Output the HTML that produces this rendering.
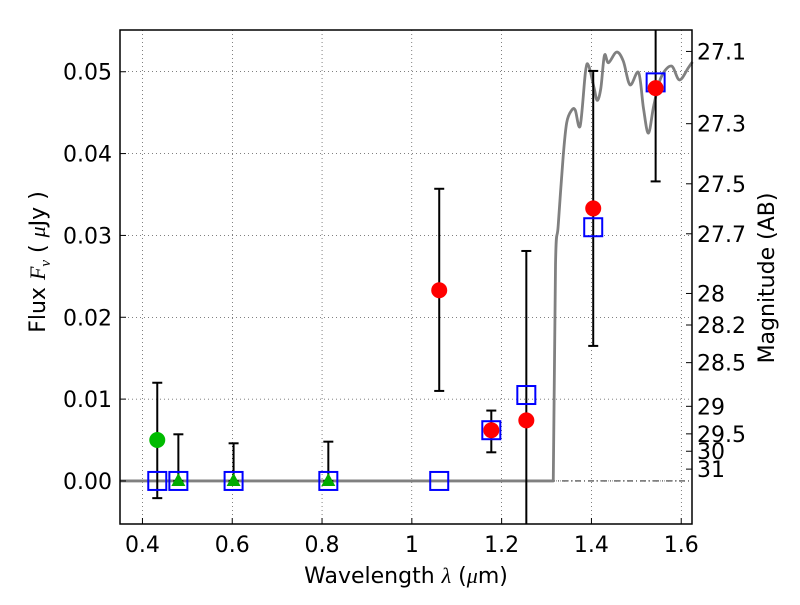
<!DOCTYPE html>
<html><head><meta charset="utf-8"><style>
html,body{margin:0;padding:0;background:#fff;}
svg text{font-family:"DejaVu Sans","Liberation Sans",sans-serif;}
</style></head><body>
<svg id="chart" width="800" height="600" xmlns="http://www.w3.org/2000/svg">
<rect width="800" height="600" fill="#fff"/>
<g id="grid"></g>
<g id="plot"></g>
<rect x="120" y="30" width="572" height="494" fill="none" stroke="#000" stroke-width="1.5"/>
<g id="axes"></g>
<text x="406" y="583" font-size="22" text-anchor="middle">Wavelength  <tspan font-style="italic" font-family="Liberation Serif,serif">λ</tspan> (<tspan font-style="italic" font-family="Liberation Serif,serif">μ</tspan>m)</text>
<text transform="translate(45,262) rotate(-90)" font-size="22" text-anchor="middle">Flux  <tspan font-style="italic" font-family="Liberation Serif,serif">F</tspan><tspan font-style="italic" font-family="Liberation Serif,serif" font-size="15" dy="5">ν</tspan><tspan dy="-5">  ( </tspan><tspan font-style="italic" font-family="Liberation Serif,serif">μ</tspan>Jy )</text>
<text transform="translate(774,278) rotate(-90)" font-size="22" text-anchor="middle">Magnitude (AB)</text>
</svg>
<script>
const xTicks=[0.4,0.6,0.8,1.0,1.2,1.4,1.6];
const xTickLabels=["0.4","0.6","0.8","1","1.2","1.4","1.6"];
const yTicks=[0,0.01,0.02,0.03,0.04,0.05];
const yTickLabels=["0.00","0.01","0.02","0.03","0.04","0.05"];
const magTicks=[27.1,27.3,27.5,27.7,28,28.2,28.5,29,29.5,30,31];
const magLabels=["27.1","27.3","27.5","27.7","28","28.2","28.5","29","29.5","30","31"];
const modelLam=[0.35,1.315,1.320,1.326,1.337,1.345,1.356,1.364,1.375,1.387,1.394,1.406,1.413,1.421,1.429,1.438,1.456,1.471,1.486,1.505,1.516,1.527,1.539,1.555,1.578,1.596,1.616,1.625];
const modelFlux=[0,0,0.0264,0.0312,0.0396,0.0438,0.0453,0.0453,0.0434,0.0501,0.0507,0.0480,0.0465,0.0480,0.0520,0.0511,0.0524,0.0513,0.0484,0.0499,0.0455,0.0425,0.0459,0.0493,0.0507,0.0490,0.0505,0.0512];
const redLam=[1.061,1.177,1.255,1.404,1.543];
const redFlux=[0.0233,0.0062,0.0074,0.0333,0.0480];
const redLo=[0.0110,0.0035,-0.01,0.0165,0.0366];
const redHi=[0.0357,0.0086,0.0281,0.0501,0.06];
const greenLam=[0.433];
const greenFlux=[0.0050];
const greenLo=[-0.0021];
const greenHi=[0.0120];
const triLam=[0.480,0.603,0.814];
const triFlux=[0,0,0];
const triHi=[0.0057,0.0046,0.0048];
const sqLam=[0.433,0.480,0.603,0.814,1.061,1.177,1.255,1.404,1.543];
const sqFlux=[0,0,0,0,0,0.0062,0.0105,0.0310,0.0487];

const X0=120,X1=692,Y0=524,Y1=30,XMIN=0.35,XMAX=1.624,YMIN=-0.00526,YMAX=0.0551;
const xs=v=>X0+(v-XMIN)/(XMAX-XMIN)*(X1-X0);
const ys=v=>Y0-(v-YMIN)/(YMAX-YMIN)*(Y0-Y1);
const clampY=y=>Math.max(Y1,Math.min(Y0,y));
const NS="http://www.w3.org/2000/svg";
function mk(parent,tag,attrs){const e=document.createElementNS(NS,tag);for(const k in attrs)e.setAttribute(k,attrs[k]);parent.appendChild(e);return e;}
const grid=document.getElementById('grid'),plot=document.getElementById('plot'),axes=document.getElementById('axes');
xTicks.forEach((t,i)=>{const x=xs(t);
 const g=mk(grid,'line',{x1:x,x2:x,y1:Y1,y2:Y0,stroke:'#000','stroke-width':0.5,'stroke-dasharray':'1,3'});
 
 const tk=mk(axes,'line',{x1:x,x2:x,y1:Y0,y2:Y0-6,stroke:'#000'});
 
 const tx=mk(axes,'text',{x:x,y:Y0+28,'font-size':22,'text-anchor':'middle'});tx.textContent=xTickLabels[i];
 });
yTicks.forEach((t,i)=>{const y=ys(t);
 const g=mk(grid,'line',{x1:X0,x2:X1,y1:y,y2:y,stroke:'#000','stroke-width':0.5,'stroke-dasharray':'1,3'});
 
 const tk=mk(axes,'line',{x1:X0,x2:X0+6,y1:y,y2:y,stroke:'#000'});
 
 const tx=mk(axes,'text',{x:X0-8,y:y+8,'font-size':22,'text-anchor':'end'});tx.textContent=yTickLabels[i];
 });
magTicks.forEach((m,i)=>{const y=ys(Math.pow(10,-0.4*(m-23.9)));
 const tk=mk(axes,'line',{x1:X1,x2:X1-6,y1:y,y2:y,stroke:'#000'});
 
 const tx=mk(axes,'text',{x:X1+5,y:y+8,'font-size':22});tx.textContent=magLabels[i];
 });
const zl=mk(plot,'line',{x1:X0,x2:X1,y1:ys(0),y2:ys(0),stroke:'#000','stroke-width':0.8,'stroke-dasharray':'6,3,1,3'});

const P=modelLam.map((l,i)=>[xs(l),ys(modelFlux[i])]);
let d='M'+P[0][0]+','+P[0][1]+' L'+P[1][0]+','+P[1][1]+' L'+P[2][0]+','+P[2][1];
for(let i=2;i<P.length-1;i++){const p0=P[i-1],p1=P[i],p2=P[i+1],p3=P[Math.min(i+2,P.length-1)];
 const c1=[p1[0]+(p2[0]-p0[0])/6,p1[1]+(p2[1]-p0[1])/6],c2=[p2[0]-(p3[0]-p1[0])/6,p2[1]-(p3[1]-p1[1])/6];
 d+=` C${c1[0]},${c1[1]} ${c2[0]},${c2[1]} ${p2[0]},${p2[1]}`;}
const mp=mk(plot,'path',{d:d,fill:'none',stroke:'#808080','stroke-width':2.8,'stroke-linejoin':'round'});

function errbar(l,lo,hi){const x=xs(l),a=ys(lo),b=ys(hi);
 const g=mk(plot,'g',{});
 mk(g,'line',{x1:x,x2:x,y1:clampY(a),y2:clampY(b),stroke:'#000','stroke-width':2});
 if(a<=Y0&&a>=Y1)mk(g,'line',{x1:x-5,x2:x+5,y1:a,y2:a,stroke:'#000','stroke-width':2});
 if(b>=Y1&&b<=Y0)mk(g,'line',{x1:x-5,x2:x+5,y1:b,y2:b,stroke:'#000','stroke-width':2});}
redLam.forEach((l,i)=>errbar(l,redLo[i],redHi[i]));
greenLam.forEach((l,i)=>errbar(l,greenLo[i],greenHi[i]));
triLam.forEach((l,i)=>errbar(l,triFlux[i],triHi[i]));
sqLam.forEach((l,i)=>{const x=xs(l),y=ys(sqFlux[i]);
 const s=mk(plot,'rect',{x:x-9,y:y-9,width:18,height:18,fill:'none',stroke:'#0000ff','stroke-width':2});
 });
triLam.forEach((l,i)=>{const x=xs(l),y=ys(triFlux[i]);
 const t=mk(plot,'polygon',{points:`${x},${y-8} ${x-7},${y+5} ${x+7},${y+5}`,fill:'#00aa00'});
 });
greenLam.forEach((l,i)=>{const c=mk(plot,'circle',{cx:xs(l),cy:ys(greenFlux[i]),r:8,fill:'#00bb00'});
 });
redLam.forEach((l,i)=>{const c=mk(plot,'circle',{cx:xs(l),cy:ys(redFlux[i]),r:8,fill:'#ff0000'});
 });
</script>
</body></html>
